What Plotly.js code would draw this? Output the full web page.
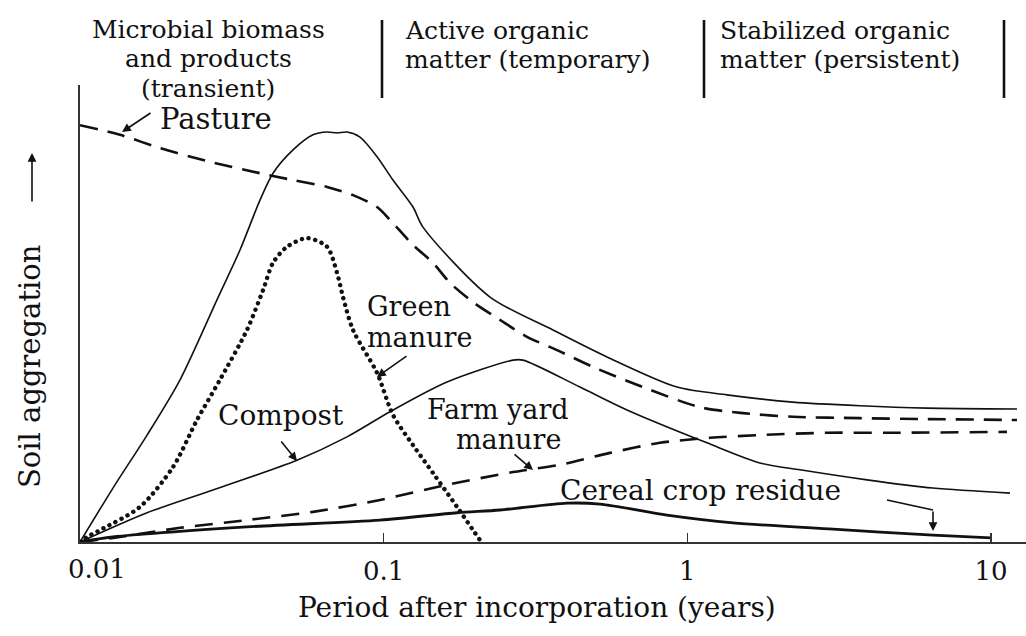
<!DOCTYPE html>
<html><head><meta charset="utf-8">
<script src="https://cdn.plot.ly/plotly-3.0.1.min.js"></script>
<style>
html,body{margin:0;padding:0;background:#fff;}
#chart{width:1026px;height:636px;}
.scatterlayer .trace:nth-child(3) path.js-line{stroke-linecap:round;}
</style></head><body><div id="chart"></div>
<script>
// ---- data (x: years after incorporation, y: relative soil aggregation 0-100) ----
const pastureX = [0.01,0.01354,0.01834,0.0268,0.03914,0.05028,0.06508,0.07924,0.09509,0.1049,0.1249,0.1453,0.1654,0.1968,0.2415,0.2965,0.3721,0.4889,0.7142,1.1003,1.5246,2.2267,3.7018,6.151,12.17];
const pastureY = [91.2,89.1,86.2,83.2,80.7,79.2,77.7,75.9,73.3,70.5,65.0,61.1,56.7,52.5,48.6,44.9,42.0,38.3,33.9,29.5,28.2,27.4,27.1,26.9,26.7];

const peakX = [0.01,0.01284,0.01663,0.02135,0.02825,0.03364,0.03914,0.04321,0.05028,0.05851,0.06508,0.0702,0.07572,0.08356,0.09509,0.1073,0.1249,0.1347,0.2239,0.361,0.5436,0.9242,1.3505,2.2267,3.7018,6.151,12.17];
const peakY = [0,11.8,23.4,35.5,53.0,63.9,74.8,80.7,85.8,89.1,89.7,89.5,89.7,88.6,84.3,79.2,73.3,68.9,53.6,46.4,40.5,33.9,32.2,30.6,29.8,29.3,29.1];

const greenX = [0.01,0.01054,0.01164,0.01577,0.02024,0.02428,0.0289,0.03547,0.04005,0.04321,0.04805,0.05591,0.06508,0.0702,0.07346,0.07924,0.09509,0.1073,0.1249,0.1453,0.1743,0.2075];
const greenY = [0,1.1,2.6,7.7,16.4,26.7,35.5,46.4,55.1,61.1,64.6,66.5,64.6,58.9,53.6,46.4,37.0,27.8,21.2,15.1,7.7,0.4];

const compostX = [0.01,0.01663,0.02742,0.05182,0.07572,0.1049,0.1616,0.2666,0.2874,0.443,0.6326,1.1602,1.7339,2.349,3.9034,6.437,11.54];
const compostY = [0,6.4,11.4,17.9,23.0,28.5,35.0,39.8,39.8,33.9,28.9,21.7,17.3,15.8,13.6,11.8,10.7];

const farmX = [0.01,0.01354,0.02135,0.03547,0.05851,0.09729,0.1616,0.2666,0.3806,0.5561,0.8123,1.1869,1.7339,2.8824,4.7535,11.28];
const farmY = [0,1.1,3.1,4.8,6.6,9.2,12.5,15.3,16.9,19.5,21.7,22.8,23.4,23.9,23.9,24.1];

const cerealX = [0.01,0.01284,0.03547,0.09729,0.1743,0.2415,0.4012,0.5155,0.8566,1.4133,3.0166,6.437,10];
const cerealY = [0,1.1,3.3,4.8,6.4,7.0,8.5,8.3,5.9,4.2,2.8,1.5,0.9];

const tickVals = [0.1,1,10];
const tickText = ['0.1','1','10'];

// ---- styling / layout ----
const FONT = 'DejaVu Serif, Liberation Serif, serif';
const INK = '#111';
const PX = p => (p-80)/946;      // pixel -> paper (layout positions only)
const PY = p => (542-p)/457;

function tr(x,y,name,w,dash){
  return {x:x,y:y,name:name,type:'scatter',mode:'lines',cliponaxis:false,hoverinfo:'skip',
    line:{color:INK,width:w,dash:dash,shape:'spline',smoothing:0.8}};
}
const data = [
  tr(pastureX,pastureY,'Pasture',2.6,'18px,10px'),
  tr(peakX,peakY,'Microbial biomass',1.6,'solid'),
  tr(greenX,greenY,'Green manure',4.4,'0.1px,6.7px'),
  tr(compostX,compostY,'Compost',1.6,'solid'),
  tr(farmX,farmY,'Farm yard manure',2.6,'18px,11px'),
  tr(cerealX,cerealY,'Cereal crop residue',2.8,'solid')
];

function label(text,px,py,size,anchor,angle){
  return {text:text,xref:'paper',yref:'paper',x:PX(px),y:PY(py),xanchor:anchor||'center',yanchor:'middle',
    showarrow:false,textangle:angle||0,font:{family:FONT,size:size,color:INK}};
}
function arrow(tx,ty,ax,ay){
  return {text:'',xref:'paper',yref:'paper',x:PX(tx),y:PY(ty),ax:ax,ay:ay,showarrow:true,
    arrowhead:2,arrowsize:1.1,arrowwidth:1.6,arrowcolor:INK,standoff:0};
}
const annotations = [
  label('Microbial biomass',208,29,25),
  label('and products',208,59,25),
  label('(transient)',208,89,25),
  label('Active organic',403,30,25,'left'),
  label('matter (temporary)',403,60,25,'left'),
  label('Stabilized organic',718,30,25,'left'),
  label('matter (persistent)',718,60,25,'left'),
  label('Pasture',216,119,29),
  arrow(122,132,30,-20),
  label('Green',365,306,27,'left'),
  label('manure',365,337,27,'left'),
  arrow(377,377,31,-22),
  label('Compost',281,415,28),
  arrow(297,461,-17,-21),
  label('Farm yard',498,410,27),
  label('manure',508,439,27),
  arrow(533,470,-20,-17),
  label('Cereal crop residue',700,490,28),
  arrow(933,531,0,-21),
  label('0.01',97,569,26),
  label('Period after incorporation (years)',537,607,28),
  label('Soil aggregation',30,367,29,'center',-90),
  arrow(32,153,0,50)
];
const shapes = [
  {type:'line',xref:'paper',yref:'paper',x0:PX(382),x1:PX(382),y0:PY(20),y1:PY(98),line:{color:INK,width:2.6}},
  {type:'line',xref:'paper',yref:'paper',x0:PX(704),x1:PX(704),y0:PY(20),y1:PY(98),line:{color:INK,width:2.6}},
  {type:'line',xref:'paper',yref:'paper',x0:PX(1004),x1:PX(1004),y0:PY(20),y1:PY(98),line:{color:INK,width:2.6}},
  {type:'line',xref:'paper',yref:'paper',x0:PX(887),x1:PX(933),y0:PY(500),y1:PY(510),line:{color:INK,width:1.6}}
];

const layout = {
  width:1026,height:636,
  margin:{l:80,r:0,t:85,b:94,pad:0},
  paper_bgcolor:'#fff',plot_bgcolor:'#fff',
  showlegend:false,
  font:{family:FONT,color:INK},
  xaxis:{type:'log',range:[-2,1.115],tickvals:tickVals,ticktext:tickText,ticks:'inside',ticklen:9,tickwidth:1.6,
    tickcolor:'#333',tickfont:{family:FONT,size:26,color:INK},ticklabelstandoff:5,
    showline:true,linecolor:'#333',linewidth:2,showgrid:false,zeroline:false},
  yaxis:{range:[0,100],showline:true,linecolor:'#333',linewidth:2,showticklabels:false,ticks:'',
    showgrid:false,zeroline:false},
  annotations:annotations,
  shapes:shapes
};
Plotly.newPlot('chart',data,layout,{staticPlot:true,displayModeBar:false});
</script></body></html>
